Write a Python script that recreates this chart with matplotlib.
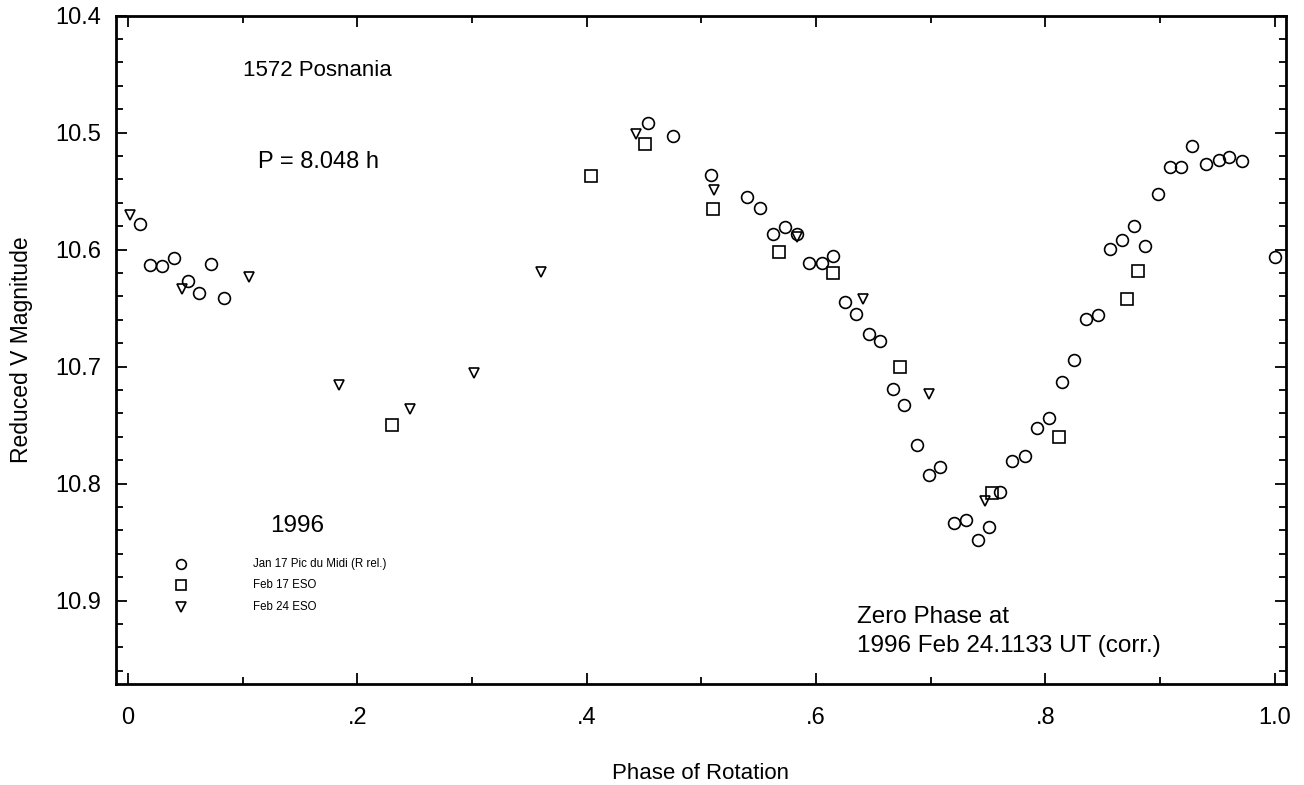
#!/usr/bin/python3

#Lightcurve of 1572 Posnania
#---
#Reduced V magnitude against rotational phase, three observing nights.

#import libraries
import matplotlib
matplotlib.use('Agg')
import matplotlib.pyplot as plt
from matplotlib.ticker import MultipleLocator, FuncFormatter

plt.rcParams['font.family'] = ['Liberation Sans', 'DejaVu Sans']

#data
jan17_phase = [0.010, 0.019, 0.030, 0.040, 0.052, 0.062, 0.072, 0.084,
               0.453, 0.475, 0.508, 0.540, 0.551, 0.562, 0.573, 0.583,
               0.594, 0.605, 0.615, 0.625, 0.635, 0.646, 0.656, 0.667,
               0.677, 0.688, 0.698, 0.708, 0.720, 0.731, 0.741, 0.751,
               0.760, 0.771, 0.782, 0.793, 0.803, 0.814, 0.825, 0.835,
               0.846, 0.856, 0.867, 0.877, 0.887, 0.898, 0.909, 0.918,
               0.928, 0.940, 0.951, 0.960, 0.971, 1.000]
jan17_mag = [10.578, 10.613, 10.614, 10.607, 10.627, 10.637, 10.612, 10.641,
             10.492, 10.503, 10.536, 10.555, 10.564, 10.587, 10.581, 10.587,
             10.611, 10.611, 10.605, 10.645, 10.655, 10.672, 10.678, 10.719,
             10.733, 10.767, 10.793, 10.786, 10.834, 10.831, 10.848, 10.837,
             10.807, 10.781, 10.776, 10.752, 10.744, 10.713, 10.694, 10.659,
             10.656, 10.599, 10.592, 10.580, 10.597, 10.552, 10.529, 10.529,
             10.511, 10.527, 10.523, 10.521, 10.524, 10.606]

feb17_phase = [0.230, 0.404, 0.451, 0.510, 0.568, 0.615, 0.673, 0.753,
               0.812, 0.871, 0.881]
feb17_mag = [10.750, 10.537, 10.510, 10.565, 10.602, 10.620, 10.700, 10.808,
             10.760, 10.642, 10.618]

feb24_phase = [0.002, 0.047, 0.105, 0.184, 0.246, 0.302, 0.360, 0.443,
               0.511, 0.583, 0.641, 0.698, 0.747]
feb24_mag = [10.570, 10.634, 10.623, 10.716, 10.736, 10.705, 10.619, 10.501,
             10.549, 10.589, 10.642, 10.723, 10.815]

#define figure for plotting
fig = plt.figure(figsize = (13.04, 7.85), dpi = 100)
ax = fig.add_axes([0.089, 0.129, 0.897, 0.851])

mk = dict(linestyle = 'none', markerfacecolor = 'none', markeredgecolor = 'black', markeredgewidth = 1.2)
ax.plot(jan17_phase, jan17_mag, marker = 'o', markersize = 8.5, **mk)
ax.plot(feb17_phase, feb17_mag, marker = 's', markersize = 8, **mk)
ax.plot(feb24_phase, feb24_mag, marker = 'v', markersize = 7.5, **mk)

#axes limits and ticks
ax.set_xlim(-0.0105, 1.0095)
ax.set_ylim(10.971, 10.4)
ax.xaxis.set_major_locator(MultipleLocator(0.2))
ax.xaxis.set_minor_locator(MultipleLocator(0.1))
ax.yaxis.set_major_locator(MultipleLocator(0.1))
ax.yaxis.set_minor_locator(MultipleLocator(0.02))

def phase_fmt(v, pos):
    if abs(v) < 1e-9:
        return '0'
    if abs(v - 1.0) < 1e-9:
        return '1.0'
    return ('%.1f' % v).lstrip('0')

ax.xaxis.set_major_formatter(FuncFormatter(phase_fmt))
ax.yaxis.set_major_formatter(FuncFormatter(lambda v, p: '%.1f' % v))

ax.tick_params(which = 'both', direction = 'in', top = True, right = True, width = 1.3, labelsize = 17)
ax.tick_params(which = 'major', length = 8)
ax.tick_params(which = 'minor', length = 5)
ax.tick_params(axis = 'x', which = 'major', pad = 17)
ax.tick_params(axis = 'y', which = 'major', pad = 11)
for s in ax.spines.values():
    s.set_linewidth(2)

ax.set_xlabel("Phase of Rotation", fontsize = 16, labelpad = 24)
ax.set_ylabel("Reduced V Magnitude", fontsize = 16.5, labelpad = 16)

#annotations
ax.text(0.100, 10.447, "1572 Posnania", fontsize = 16, va = 'center')
ax.text(0.113, 10.525, "P = 8.048 h", fontsize = 17, va = 'center')
ax.text(0.124, 10.836, "1996", fontsize = 17.5, va = 'center')
ax.text(0.636, 10.914, "Zero Phase at", fontsize = 17.5, va = 'center')
ax.text(0.636, 10.939, "1996 Feb 24.1133 UT (corr.)", fontsize = 17.5, va = 'center')

#legend drawn by hand in data space
leg_x = 0.046
leg_rows = [10.869, 10.887, 10.905]
leg_labels = ["Jan 17 Pic du Midi (R rel.)", "Feb 17 ESO", "Feb 24 ESO"]
leg_markers = [('o', 7), ('s', 7), ('v', 6.5)]
for yy, lab, (m, ms) in zip(leg_rows, leg_labels, leg_markers):
    ax.plot([leg_x], [yy], marker = m, markersize = ms, **mk)
    ax.text(0.109, yy, lab, fontsize = 8.3, va = 'center')

fig.savefig("out.png", dpi = 100)
